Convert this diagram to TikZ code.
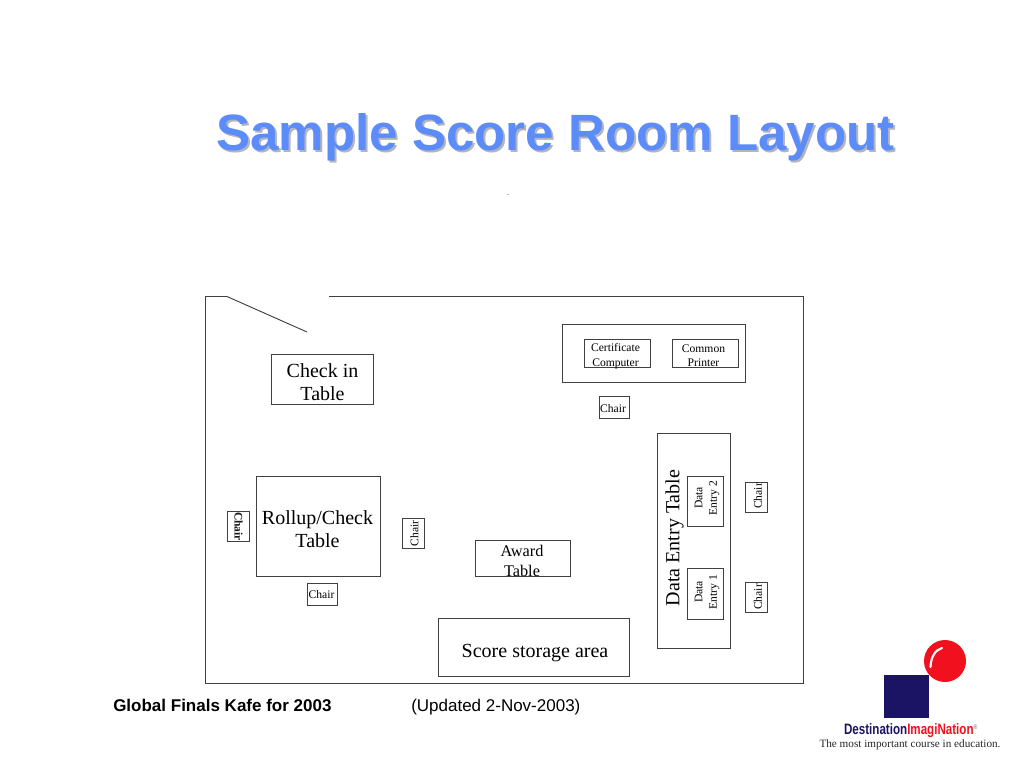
\documentclass[tikz,border=0pt]{standalone}
\usepackage{fontspec}
\setmainfont{Liberation Serif}
\setsansfont{Liberation Sans}
\definecolor{titleblue}{HTML}{5B8CFA}
\definecolor{titleshade}{HTML}{B4B4BC}
\definecolor{logonavy}{HTML}{1B1464}
\definecolor{logored}{HTML}{F0101E}
\definecolor{wallgray}{HTML}{404040}
\tikzset{
  tablebox/.style={draw=wallgray,line width=0.75pt,inner sep=0pt,align=center,text=black!90},
  bigtext/.style={font=\fontsize{15}{17.25}\selectfont},
  midtext/.style={font=\fontsize{12.2}{15}\selectfont},
  smalltext/.style={font=\fontsize{8.7}{10.8}\selectfont},
  chairbox/.style={tablebox,smalltext,minimum width=22.5pt,minimum height=16.5pt},
  footertext/.style={font=\sffamily\fontsize{12.75}{15}\selectfont,inner sep=0pt}
}
\begin{document}
\begin{tikzpicture}[x=0.75pt,y=-0.75pt]
        \useasboundingbox (0,0) rectangle (1024,768);
        % title
        \node[font=\sffamily\bfseries\fontsize{38.3}{42}\selectfont,text=titleshade,inner sep=0pt] (titleshadow) at (557.5,139) {Sample Score Room Layout};
        \node[font=\sffamily\bfseries\fontsize{38.3}{42}\selectfont,text=titleblue,inner sep=0pt] (title) at (555.5,137) {Sample Score Room Layout};
        \node[font=\fontsize{5}{6}\selectfont,text=black!60,inner sep=0pt] (dash) at (508,196) {-};
        % room walls
        \coordinate (doorhinge) at (227,296.5);
        \coordinate (doorend) at (307,332);
        \coordinate (wallnw) at (205.5,296.5);
        \coordinate (wallgap) at (329,296.5);
        \coordinate (wallne) at (803.5,296.5);
        \coordinate (wallse) at (803.5,683.5);
        \coordinate (wallsw) at (205.5,683.5);
        \draw[wallgray,line width=0.75pt] (doorhinge) -- (wallnw) -- (wallsw) -- (wallse) -- (wallne) -- (wallgap);
        \draw[wallgray,line width=0.7pt] (doorhinge) -- (doorend);
        % left side
        \node[tablebox,minimum width=76.5pt,minimum height=37.5pt] (checkin) at (322.5,379.5) {};
        \node[bigtext,align=center,inner sep=0pt] (checkinlabel) at (322.5,382) {Check in\\Table};
        \node[tablebox,minimum width=93pt,minimum height=75pt] (rollup) at (318.5,526.5) {};
        \node[bigtext,align=center,inner sep=0pt] (rolluplabel) at (317.5,529) {Rollup/Check\\Table};
        \node[chairbox,rotate=-90,font=\bfseries\fontsize{8.7}{10.5}\selectfont] (chairleft) at (238.5,526.5) {Chair};
        \node[chairbox,rotate=90] (chairright) at (413.5,533.5) {};
        \node[smalltext,rotate=90,inner sep=0pt] (chairrightlabel) at (414.5,533.5) {Chair};
        \node[chairbox] (chairbottom) at (322.5,594.5) {};
        \node[smalltext,inner sep=0pt] (chairbottomlabel) at (321.5,595) {Chair};
        % middle
        \node[tablebox,minimum width=71.25pt,minimum height=27pt] (award) at (523,558.5) {};
        \node[midtext,align=center,inner sep=0pt] (awardlabel) at (522,560.5) {Award\\Table};
        \node[tablebox,minimum width=143.25pt,minimum height=43.5pt] (storage) at (534,647.5) {};
        \node[bigtext,inner sep=0pt] (storagelabel) at (535,653) {Score storage area};
        % top right
        \node[tablebox,minimum width=137.25pt,minimum height=43.5pt] (certdesk) at (654,353.5) {};
        \node[tablebox,minimum width=49.5pt,minimum height=21pt] (certificate) at (617.5,353.5) {};
        \node[smalltext,align=center,inner sep=0pt] (certificatelabel) at (615.5,356) {Certificate\\Computer};
        \node[tablebox,minimum width=49.5pt,minimum height=21pt] (printer) at (705,353.5) {};
        \node[smalltext,align=center,inner sep=0pt] (printerlabel) at (703.5,356) {Common\\Printer};
        \node[chairbox] (chairtop) at (614,407.5) {};
        \node[smalltext,inner sep=0pt] (chairtoplabel) at (613,409) {Chair};
        % data entry table
        \node[tablebox,minimum width=54.75pt,minimum height=161.25pt] (dataentry) at (694,540.5) {};
        \node[bigtext,rotate=90,inner sep=0pt] (dataentrylabel) at (674.5,538) {Data Entry Table};
        \node[tablebox,rotate=90,minimum width=37.5pt,minimum height=27pt] (entrytwo) at (705.5,501.5) {};
        \node[smalltext,align=center,rotate=90,inner sep=0pt] (entrytwolabel) at (707,498) {Data\\Entry 2};
        \node[tablebox,rotate=90,minimum width=38.25pt,minimum height=27pt] (entryone) at (705.5,593.5) {};
        \node[smalltext,align=center,rotate=90,inner sep=0pt] (entryonelabel) at (707,592) {Data\\Entry 1};
        \node[chairbox,rotate=90] (chairentrytwo) at (756.5,497.5) {};
        \node[smalltext,rotate=90,inner sep=0pt] (chairentrytwolabel) at (758,496) {Chair};
        \node[chairbox,rotate=90] (chairentryone) at (756.5,597.5) {};
        \node[smalltext,rotate=90,inner sep=0pt] (chairentryonelabel) at (758,597) {Chair};
        % footer
        \node[footertext,font=\sffamily\bfseries\fontsize{12.75}{15}\selectfont,anchor=base west] (finals) at (113,711) {Global Finals Kafe for 2003};
        \node[footertext,anchor=base west] (updated) at (411,711) {(Updated 2-Nov-2003)};
        % logo
        \fill[logored] (945,661) circle[radius=21];
        \draw[white,line width=1.6pt,line cap=round] (930.5,667) .. controls (931,657) and (935,650) .. (942,648);
        \fill[logonavy] (884,675) rectangle (929,718);
        \node[inner sep=0pt,xscale=0.77,font=\sffamily\bfseries\fontsize{11.3}{13}\selectfont,text=logonavy] (logoname) at (911,730.5) {Destination\textcolor{logored}{ImagiNation}\textsuperscript{\textcolor{black!50}{\tiny\textregistered}}};
        \node[inner sep=0pt,font=\fontsize{8.4}{10}\selectfont,text=black!85] (logotag) at (910,745) {The most important course in education.};
\end{tikzpicture}
\end{document}
